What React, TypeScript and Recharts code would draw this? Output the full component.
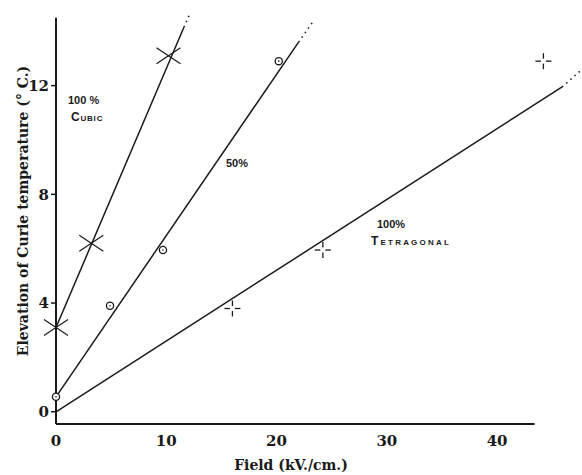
import React from "react";
import {
  ComposedChart,
  Line,
  Scatter,
  XAxis,
  YAxis,
  ReferenceLine,
} from "recharts";

// measured points
const cubicPoints = [
  { x: 0, y: 3.1 },
  { x: 3.2, y: 6.2 },
  { x: 10.2, y: 13.1 },
];
const halfPoints = [
  { x: 0, y: 0.55 },
  { x: 4.9, y: 3.9 },
  { x: 9.7, y: 5.95 },
  { x: 20.2, y: 12.9 },
];
const tetraPoints = [
  { x: 16.0, y: 3.8 },
  { x: 24.2, y: 5.95 },
  { x: 44.2, y: 12.9 },
];

// fitted lines (solid part, then dotted extension)
const cubicLine = [
  { x: 0, y: 3.1 },
  { x: 11.6, y: 14.15 },
];
const cubicExt = [
  { x: 11.6, y: 14.15 },
  { x: 12.2, y: 14.7 },
];
const halfLine = [
  { x: 0, y: 0.55 },
  { x: 22.0, y: 13.6 },
];
const halfExt = [
  { x: 22.0, y: 13.6 },
  { x: 23.3, y: 14.35 },
];
const tetraLine = [
  { x: 0, y: 0 },
  { x: 45.9, y: 11.95 },
];
const tetraExt = [
  { x: 45.9, y: 11.95 },
  { x: 47.7, y: 12.6 },
];

const xTicks = [0, 10, 20, 30, 40];
const yTicks = [0, 4, 8, 12];

const INK = "#1a1a1a";
const SERIF = "'DejaVu Serif', 'Liberation Serif', serif";
const HAND = "'Liberation Sans', 'DejaVu Sans', sans-serif";

function CrossMark(props: any) {
  const { cx, cy } = props;
  return (
    <g stroke={INK} strokeWidth={1.2}>
      <line x1={cx - 12} y1={cy - 8} x2={cx + 12} y2={cy + 8} />
      <line x1={cx - 12} y1={cy + 8} x2={cx + 12} y2={cy - 8} />
    </g>
  );
}

function RingMark(props: any) {
  const { cx, cy } = props;
  return (
    <g>
      <circle cx={cx} cy={cy} r={3.6} fill="#fff" stroke={INK} strokeWidth={1.3} />
      <circle cx={cx} cy={cy} r={0.8} fill={INK} />
    </g>
  );
}

function PlusMark(props: any) {
  const { cx, cy } = props;
  return (
    <g stroke={INK} strokeWidth={1.3}>
      <line x1={cx - 8} y1={cy} x2={cx - 2.5} y2={cy} />
      <line x1={cx + 2.5} y1={cy} x2={cx + 8} y2={cy} />
      <line x1={cx} y1={cy - 8} x2={cx} y2={cy - 2.5} />
      <line x1={cx} y1={cy + 2.5} x2={cx} y2={cy + 8} />
    </g>
  );
}

export default function App() {
  const tick = { fill: INK, fontSize: 15, fontFamily: SERIF, fontWeight: 700 };
  const hand = { fontFamily: HAND, fontSize: 11, fontWeight: 600, fill: INK };
  return (
    <div style={{ position: "absolute", left: 0, top: 0, background: "#fff" }}>
      <ComposedChart
        width={582}
        height={475}
        margin={{ top: 0, right: 0, bottom: 0, left: 0 }}
      >
        <XAxis
          type="number"
          dataKey="x"
          domain={[0, 47.7]}
          ticks={xTicks}
          axisLine={false}
          tickLine={false}
          tickMargin={5}
          tick={tick}
          height={51}
        />
        <YAxis
          type="number"
          dataKey="y"
          domain={[-0.45, 15.15]}
          ticks={yTicks}
          axisLine={false}
          tickLine={{ stroke: INK, strokeWidth: 1.5 }}
          tickSize={5}
          tick={tick}
          width={56}
        />
        <ReferenceLine
          segment={[
            { x: 0, y: -0.45 },
            { x: 0, y: 14.5 },
          ]}
          stroke={INK}
          strokeWidth={2}
        />
        <ReferenceLine
          segment={[
            { x: 0, y: -0.45 },
            { x: 43.4, y: -0.45 },
          ]}
          stroke={INK}
          strokeWidth={2}
        />
        <Line data={cubicLine} dataKey="y" type="linear" stroke={INK} strokeWidth={1.5} dot={false} isAnimationActive={false} />
        <Line data={cubicExt} dataKey="y" type="linear" stroke={INK} strokeWidth={1.5} strokeDasharray="1.5 4" dot={false} isAnimationActive={false} />
        <Line data={halfLine} dataKey="y" type="linear" stroke={INK} strokeWidth={1.5} dot={false} isAnimationActive={false} />
        <Line data={halfExt} dataKey="y" type="linear" stroke={INK} strokeWidth={1.5} strokeDasharray="1.5 4" dot={false} isAnimationActive={false} />
        <Line data={tetraLine} dataKey="y" type="linear" stroke={INK} strokeWidth={1.5} dot={false} isAnimationActive={false} />
        <Line data={tetraExt} dataKey="y" type="linear" stroke={INK} strokeWidth={1.5} strokeDasharray="1.5 4" dot={false} isAnimationActive={false} />
        <Scatter data={cubicPoints} shape={<CrossMark />} isAnimationActive={false} />
        <Scatter data={halfPoints} shape={<RingMark />} isAnimationActive={false} />
        <Scatter data={tetraPoints} shape={<PlusMark />} isAnimationActive={false} />

        <text x={68} y={104} {...hand}>100 %</text>
        <text x={71} y={121} {...hand} fontSize={12} letterSpacing={0.8} style={{ fontVariant: "small-caps" }}>Cubic</text>
        <text x={226} y={167} {...hand}>50%</text>
        <text x={377} y={228} {...hand}>100%</text>
        <text x={371} y={245} {...hand} fontSize={12} letterSpacing={2.2} style={{ fontVariant: "small-caps" }}>Tetragonal</text>

        <text x={291} y={470} textAnchor="middle" fontFamily={SERIF} fontSize={14} fontWeight={700} fill={INK}>
          Field (kV./cm.)
        </text>
        <text
          x={23}
          y={211}
          textAnchor="middle"
          dominantBaseline="central"
          transform="rotate(-90 23 211)"
          fontFamily={SERIF}
          fontSize={14}
          fontWeight={700}
          fill={INK}
        >
          Elevation of Curie temperature (° C.)
        </text>
      </ComposedChart>
    </div>
  );
}
